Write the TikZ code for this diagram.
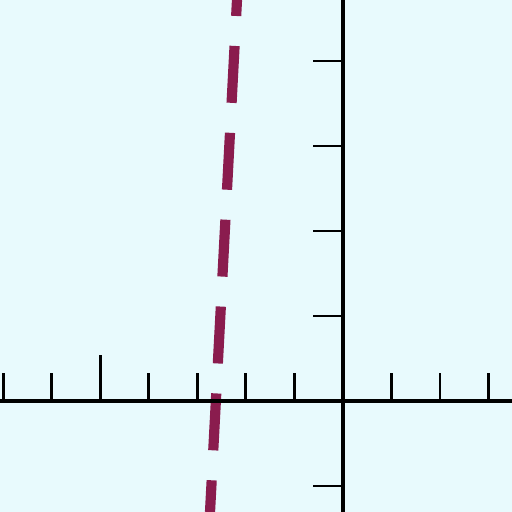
\documentclass[tikz,border=0pt]{standalone}
\definecolor{paper}{RGB}{232,250,253}
\definecolor{plum}{RGB}{138,28,78}
\begin{document}
\begin{tikzpicture}[x=0.971cm, y=1.7cm]
  \fill[paper] (-7.065, -1.306) rectangle (3.481, 4.718);
  \useasboundingbox (-7.065, -1.306) rectangle (3.481, 4.718);
  \draw[plum, line width=5.8pt, dash pattern=on 1.14cm off 0.6cm, dash phase=0.82cm] (-2.183, 4.718) -- (-2.739, -1.306);
  \draw[line width=1.9pt] (-7.065, 0.0) -- (3.481, 0.0);
  \draw[line width=1.9pt] (0.0, -1.306) -- (0.0, 4.718);
  \draw[line width=1.6pt] (-7.0, 0.0) -- (-7.0, 0.33);
  \draw[line width=1.6pt] (-6.0, 0.0) -- (-6.0, 0.33);
  \draw[line width=1.6pt] (-5.0, 0.0) -- (-5.0, 0.54);
  \draw[line width=1.6pt] (-4.0, 0.0) -- (-4.0, 0.33);
  \draw[line width=1.6pt] (-3.0, 0.0) -- (-3.0, 0.33);
  \draw[line width=1.6pt] (-2.0, 0.0) -- (-2.0, 0.33);
  \draw[line width=1.6pt] (-1.0, 0.0) -- (-1.0, 0.33);
  \draw[line width=1.6pt] (1.0, 0.0) -- (1.0, 0.33);
  \draw[line width=1.6pt] (2.0, 0.0) -- (2.0, 0.33);
  \draw[line width=1.6pt] (3.0, 0.0) -- (3.0, 0.33);
  \draw[line width=1.6pt] (0.0, 4.0) -- (-0.62, 4.0);
  \draw[line width=1.6pt] (0.0, 3.0) -- (-0.62, 3.0);
  \draw[line width=1.6pt] (0.0, 2.0) -- (-0.62, 2.0);
  \draw[line width=1.6pt] (0.0, 1.0) -- (-0.62, 1.0);
  \draw[line width=1.6pt] (0.0, -1.0) -- (-0.62, -1.0);
\end{tikzpicture}
\end{document}
